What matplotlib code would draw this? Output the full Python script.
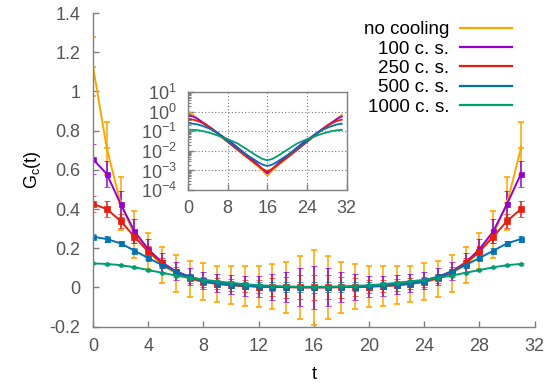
import matplotlib
matplotlib.use('Agg')
import matplotlib.pyplot as plt
from matplotlib.ticker import LogLocator, NullFormatter, LogFormatterMathtext
from matplotlib.lines import Line2D

plt.rcParams['font.family'] = ['Liberation Sans', 'DejaVu Sans']
plt.rcParams['mathtext.fontset'] = 'custom'
plt.rcParams['mathtext.rm'] = 'Liberation Sans'
plt.rcParams['mathtext.it'] = 'Liberation Sans:italic'

t = list(range(32))
labels = ['no cooling', '100 c. s.', '250 c. s.', '500 c. s.', '1000 c. s.']
colors = ['#ffa500', '#9400d3', '#e51e10', '#0072b2', '#009e73']

g_nocool = [1.127, 0.71, 0.43, 0.27, 0.185, 0.115, 0.072, 0.045, 0.029, 0.019, 0.012, 0.0074,
            0.0046, 0.0028, 0.0017, 0.00098, 0.00053, 0.00098, 0.0017, 0.0028, 0.0046, 0.0074,
            0.012, 0.019, 0.029, 0.045, 0.072, 0.115, 0.185, 0.27, 0.43, 0.71]
e_nocool = [0.15, 0.136, 0.135, 0.12, 0.092, 0.094, 0.094, 0.092, 0.094, 0.092, 0.096, 0.1,
            0.104, 0.115, 0.13, 0.162, 0.19, 0.162, 0.13, 0.115, 0.104, 0.1, 0.096, 0.092,
            0.094, 0.092, 0.094, 0.094, 0.092, 0.12, 0.135, 0.136]

g_100 = [0.654, 0.579, 0.426, 0.287, 0.195, 0.128, 0.083, 0.055, 0.037, 0.024, 0.015, 0.0092,
         0.0057, 0.0035, 0.0021, 0.0012, 0.0007, 0.0012, 0.0021, 0.0035, 0.0057, 0.0092,
         0.015, 0.024, 0.037, 0.055, 0.083, 0.128, 0.195, 0.287, 0.426, 0.579]
e_100 = [0.077, 0.068, 0.067, 0.06, 0.05, 0.047, 0.045, 0.044, 0.044, 0.046, 0.048, 0.051,
         0.055, 0.066, 0.078, 0.096, 0.108, 0.096, 0.078, 0.066, 0.055, 0.051, 0.048, 0.046,
         0.044, 0.044, 0.045, 0.047, 0.05, 0.06, 0.067, 0.068]

g_250 = [0.426, 0.4, 0.339, 0.259, 0.183, 0.125, 0.078, 0.047, 0.029, 0.018, 0.0113, 0.0071,
         0.0045, 0.0029, 0.0019, 0.0012, 0.0009, 0.0012, 0.0019, 0.0029, 0.0045, 0.0071,
         0.0113, 0.018, 0.029, 0.047, 0.078, 0.125, 0.183, 0.259, 0.339, 0.4]
e_250 = [0.04, 0.039, 0.036, 0.034, 0.029, 0.027, 0.025, 0.024, 0.027, 0.028, 0.03, 0.03,
         0.034, 0.045, 0.053, 0.06, 0.064, 0.06, 0.053, 0.045, 0.034, 0.03, 0.03, 0.028,
         0.027, 0.024, 0.025, 0.027, 0.029, 0.034, 0.036, 0.039]

g_500 = [0.259, 0.247, 0.225, 0.188, 0.15, 0.115, 0.081, 0.052, 0.032, 0.021, 0.0137, 0.009,
         0.006, 0.0041, 0.0028, 0.002, 0.0017, 0.002, 0.0028, 0.0041, 0.006, 0.009,
         0.0137, 0.021, 0.032, 0.052, 0.081, 0.115, 0.15, 0.188, 0.225, 0.247]
e_500 = [0.014, 0.014, 0.012, 0.012, 0.012, 0.013, 0.014, 0.015, 0.016, 0.017, 0.018, 0.019,
         0.021, 0.023, 0.025, 0.027, 0.028, 0.027, 0.025, 0.023, 0.021, 0.019, 0.018, 0.017,
         0.016, 0.015, 0.014, 0.013, 0.012, 0.012, 0.012, 0.014]

g_1000 = [0.123, 0.12, 0.114, 0.103, 0.089, 0.075, 0.061, 0.049, 0.04, 0.031, 0.024, 0.0165,
          0.0115, 0.0078, 0.0054, 0.0039, 0.0033, 0.0039, 0.0054, 0.0078, 0.0115, 0.0165,
          0.024, 0.031, 0.04, 0.049, 0.061, 0.075, 0.089, 0.103, 0.114, 0.12]
e_1000 = [0.003, 0.003, 0.003, 0.003, 0.003, 0.003, 0.003, 0.003, 0.003, 0.004, 0.004, 0.004,
          0.004, 0.005, 0.005, 0.005, 0.005, 0.005, 0.005, 0.005, 0.004, 0.004, 0.004, 0.004,
          0.003, 0.003, 0.003, 0.003, 0.003, 0.003, 0.003, 0.003]

series = [(g_nocool, e_nocool), (g_100, e_100), (g_250, e_250), (g_500, e_500), (g_1000, e_1000)]
markers = ['+', 's', 's', 's', 'o']
msizes = [4.5, 3.6, 3.8, 3.6, 2.8]

xticks = [0, 4, 8, 12, 16, 20, 24, 28, 32]
yticks = [-0.2, 0, 0.2, 0.4, 0.6, 0.8, 1, 1.2, 1.4]
yticklabels = ['-0.2', '0', '0.2', '0.4', '0.6', '0.8', '1', '1.2', '1.4']
inset_xticks = [0, 8, 16, 24, 32]

W, H = 556, 388
fig = plt.figure(figsize=(W / 100, H / 100), dpi=100)
ax = fig.add_axes([93 / W, 1 - 326.7 / H, (534.7 - 93) / W, (326.7 - 13) / H])

gray = '#808080'
tickc = '#555555'
for (g, e), c, m, ms in zip(series, colors, markers, msizes):
    ax.errorbar(t, g, yerr=e, color=c, lw=1.4, elinewidth=1.1, capsize=2.3, capthick=1.1,
                marker=m, ms=ms, mew=1.2 if m == '+' else 0.5, mec=c, mfc=c)

ax.set_xlim(0, 32)
ax.set_ylim(-0.2, 1.4)
ax.set_xticks(xticks)
ax.set_yticks(yticks)
ax.set_yticklabels(yticklabels)
for s in ['top', 'right']:
    ax.spines[s].set_visible(False)
for s in ['left', 'bottom']:
    ax.spines[s].set_color(gray)
    ax.spines[s].set_linewidth(1.0)
ax.tick_params(direction='in', length=4, width=1.0, color=gray, labelcolor=tickc, labelsize=13)
ax.tick_params(axis='y', pad=9)
ax.tick_params(axis='x', pad=8)
ax.set_xlabel('t', fontsize=13, labelpad=8)
ax.set_ylabel(r'G$_{\mathrm{c}}$(t)', fontsize=13, labelpad=5)

# legend (text to the left of the sample line)
handles = [Line2D([], [], color=c, lw=1.6) for c in colors]
leg = fig.legend(handles, labels, loc='upper right', bbox_to_anchor=(512 / W, 1 - 21 / H),
                 frameon=False, markerfirst=False, fontsize=13.5, handlelength=2.75,
                 handletextpad=0.6, labelspacing=0.12, borderpad=0, borderaxespad=0)

# inset
axi = fig.add_axes([188 / W, 1 - 190 / H, (346.7 - 188) / W, (190 - 92.3) / H])
for (g, e), c in zip(series, colors):
    axi.plot(t, g, color=c, lw=1.3)
axi.set_yscale('log')
axi.set_xlim(0, 32)
axi.set_ylim(1e-4, 1e1)
axi.set_xticks(inset_xticks)
axi.yaxis.set_major_locator(LogLocator(base=10, numticks=10))
axi.yaxis.set_major_formatter(LogFormatterMathtext())
axi.yaxis.set_minor_locator(LogLocator(base=10, subs=range(2, 10), numticks=20))
axi.yaxis.set_minor_formatter(NullFormatter())
axi.grid(True, which='major', linestyle=(0, (1, 2)), color='#777777', lw=0.8)
for s in axi.spines.values():
    s.set_color(gray)
    s.set_linewidth(1.0)
axi.tick_params(which='major', direction='in', length=4, width=1.0, color=gray,
                labelcolor=tickc, labelsize=13)
axi.tick_params(which='minor', direction='in', length=2, width=0.8, color=gray)
axi.tick_params(axis='y', pad=8)
axi.tick_params(axis='x', pad=7)

fig.savefig('out.png', dpi=100)
